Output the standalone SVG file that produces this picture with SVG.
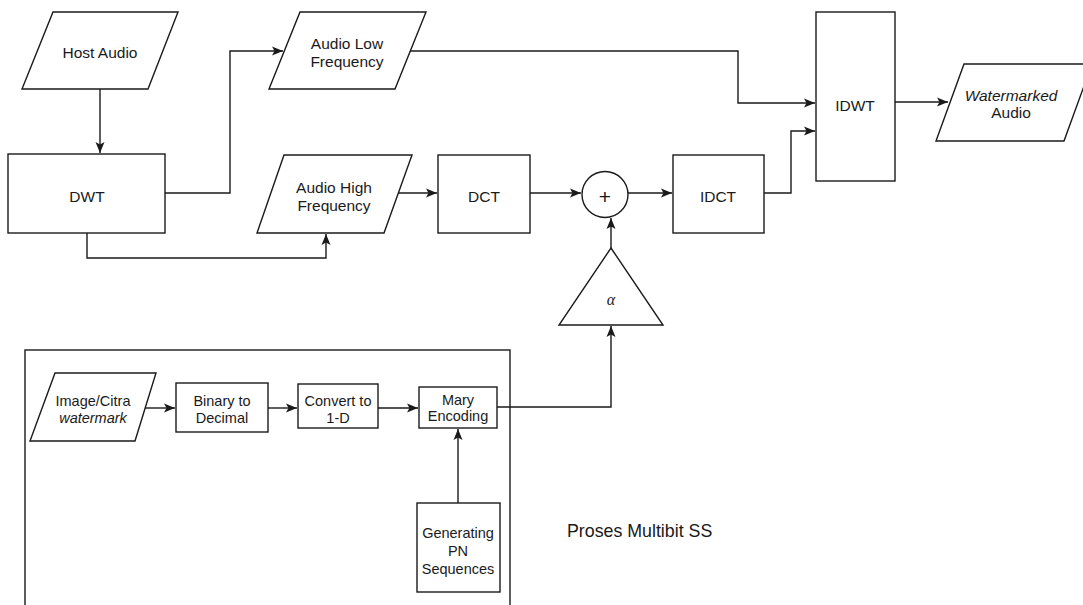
<svg xmlns="http://www.w3.org/2000/svg" width="1083" height="605" viewBox="0 0 1083 605">
<style>
.s{fill:#fff;stroke:#1a1a1a;stroke-width:1.4}
.c{fill:none;stroke:#1a1a1a;stroke-width:1.4}
text{font-family:"Liberation Sans",Arial,Helvetica,sans-serif;font-size:14.5px;fill:#1a1a1a;text-anchor:middle}
.t{font-size:15.5px}
.i{font-style:italic}
</style>
<defs>
<marker id="ah" markerUnits="userSpaceOnUse" markerWidth="12" markerHeight="10" refX="11" refY="5" orient="auto">
<path d="M0,0.5 L11,5 L0,9.5 L2.5,5 z" fill="#1a1a1a"/>
</marker>
</defs>
<rect width="1083" height="605" fill="#fff"/>
<g id="container">
<rect class="s" x="25" y="350" width="485" height="280"/>
<text x="567" y="537" style="text-anchor:start;font-size:17.8px">Proses Multibit SS</text>
</g>
<g id="connectors" class="c">
<path d="M100,89 V153" marker-end="url(#ah)"/>
<path d="M165,193 H230 V51 H283" marker-end="url(#ah)"/>
<path d="M87,233 V258 H326 V234" marker-end="url(#ah)"/>
<path d="M410,51 H738 V103 H815" marker-end="url(#ah)"/>
<path d="M399,193 H437" marker-end="url(#ah)"/>
<path d="M530,193 H581" marker-end="url(#ah)"/>
<path d="M628,193 H672" marker-end="url(#ah)"/>
<path d="M764,193 H791 V131 H815" marker-end="url(#ah)"/>
<path d="M895,102 H948" marker-end="url(#ah)"/>
<path d="M611,248 V218" marker-end="url(#ah)"/>
<path d="M497,407 H611 V326" marker-end="url(#ah)"/>
<path d="M145,408 H175" marker-end="url(#ah)"/>
<path d="M268,408 H297" marker-end="url(#ah)"/>
<path d="M378,408 H418" marker-end="url(#ah)"/>
<path d="M458,503 V429" marker-end="url(#ah)"/>
</g>
<g id="host-audio">
<path class="s" d="M53,12 H178 L148,89 H22 Z"/>
<text class="t" x="100" y="58">Host Audio</text>
</g>
<g id="dwt">
<rect class="s" x="8" y="154" width="157" height="79"/>
<text class="t" x="87" y="202">DWT</text>
</g>
<g id="audio-low">
<path class="s" d="M300,12 H426 L395,89 H269 Z"/>
<text class="t" x="347" y="49">Audio Low</text>
<text class="t" x="347" y="67">Frequency</text>
</g>
<g id="audio-high">
<path class="s" d="M284,155 H412 L384,233 H257 Z"/>
<text class="t" x="334" y="193">Audio High</text>
<text class="t" x="334" y="211">Frequency</text>
</g>
<g id="dct">
<rect class="s" x="438" y="155" width="92" height="78"/>
<text class="t" x="484" y="202">DCT</text>
</g>
<g id="sum">
<circle class="s" cx="605" cy="194.5" r="23"/>
<text x="605" y="204" style="font-size:21px">+</text>
</g>
<g id="idct">
<rect class="s" x="673" y="155" width="91" height="78"/>
<text class="t" x="718" y="202">IDCT</text>
</g>
<g id="idwt">
<rect class="s" x="816" y="12" width="79" height="169"/>
<text class="t" x="855" y="111">IDWT</text>
</g>
<g id="watermarked-audio">
<path class="s" d="M964,64 H1092 L1064,141 H936 Z"/>
<text class="t i" x="1011" y="101">Watermarked</text>
<text class="t" x="1011" y="118">Audio</text>
</g>
<g id="alpha">
<path class="s" d="M611,248 L663,325 H559 Z"/>
<text x="611" y="305" style="font-family:'Liberation Serif','DejaVu Serif',serif;font-style:italic;font-size:16px">α</text>
</g>
<g id="image-citra">
<path class="s" d="M55,373 H156 L135,441 H30 Z"/>
<text x="93" y="406">Image/Citra</text>
<text class="i" x="93" y="423">watermark</text>
</g>
<g id="binary-decimal">
<rect class="s" x="176" y="383" width="92" height="49"/>
<text x="222" y="406">Binary to</text>
<text x="222" y="423">Decimal</text>
</g>
<g id="convert-1d">
<rect class="s" x="298" y="384" width="80" height="44"/>
<text x="338" y="406">Convert to</text>
<text x="338" y="423">1-D</text>
</g>
<g id="mary-encoding">
<rect class="s" x="419" y="387" width="78" height="41"/>
<text x="458" y="405">Mary</text>
<text x="458" y="421">Encoding</text>
</g>
<g id="generating-pn">
<rect class="s" x="417" y="503" width="83" height="89"/>
<text x="458" y="538">Generating</text>
<text x="458" y="556">PN</text>
<text x="458" y="574">Sequences</text>
</g>
</svg>
